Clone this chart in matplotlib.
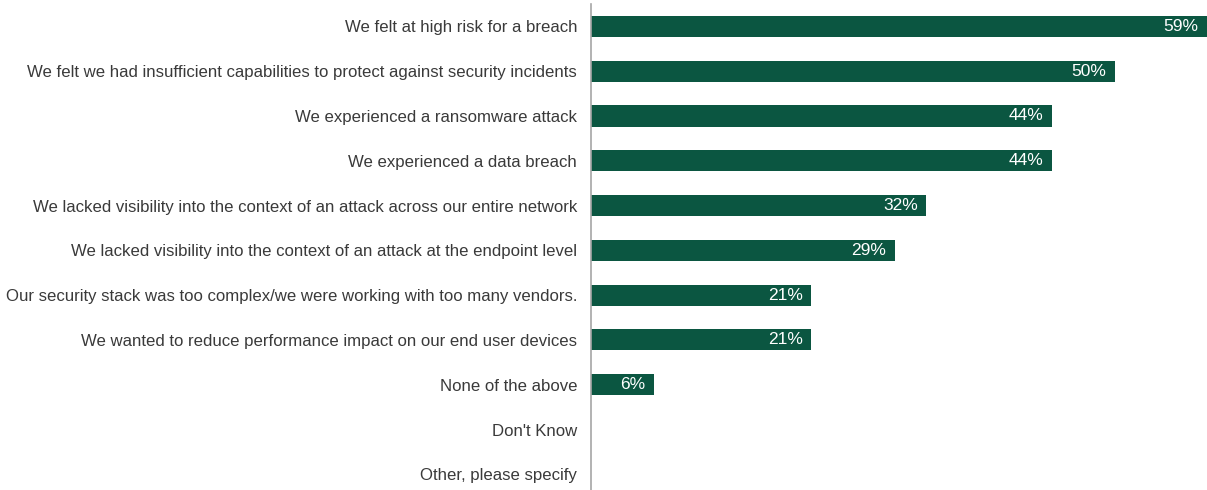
import matplotlib
matplotlib.use("Agg")
import matplotlib.pyplot as plt

categories = [
    "We felt at high risk for a breach",
    "We felt we had insufficient capabilities to protect against security incidents",
    "We experienced a ransomware attack",
    "We experienced a data breach",
    "We lacked visibility into the context of an attack across our entire network",
    "We lacked visibility into the context of an attack at the endpoint level",
    "Our security stack was too complex/we were working with too many vendors.",
    "We wanted to reduce performance impact on our end user devices",
    "None of the above",
    "Don't Know",
    "Other, please specify",
]
values = [59, 50, 44, 44, 32, 29, 21, 21, 6, 0, 0]
value_labels = ["59%", "50%", "44%", "44%", "32%", "29%", "21%", "21%", "6%", "", ""]

plt.rcParams["font.family"] = ["Liberation Sans", "DejaVu Sans"]

W, H = 1207, 490
fig = plt.figure(figsize=(W / 100, H / 100), dpi=100)
ax = fig.add_axes([591 / W, 0, 1 - 591 / W, 1 - 4 / H])

bar_color = "#0b5641"
y = list(range(len(categories)))
ax.barh(y, values, height=0.47, color=bar_color)

xmax = 58.8
for yi, v, lab in zip(y, values, value_labels):
    if lab:
        ax.annotate(lab, (min(v, xmax), yi), xytext=(-6, 0), textcoords="offset points",
                    ha="right", va="center", color="white", fontsize=12.5,
                    annotation_clip=False)

ax.set_xlim(0, xmax)
ax.set_ylim(10.35, -0.5)
ax.set_yticks(y)
ax.set_yticklabels(categories, fontsize=12.1, color="#3a3a3a")
ax.tick_params(axis="y", length=0, pad=10)
ax.set_xticks([])
for s in ["top", "right", "bottom"]:
    ax.spines[s].set_visible(False)
ax.spines["left"].set_color("#a6a6a6")
ax.spines["left"].set_linewidth(1.2)

fig.savefig("out.png", dpi=100)
